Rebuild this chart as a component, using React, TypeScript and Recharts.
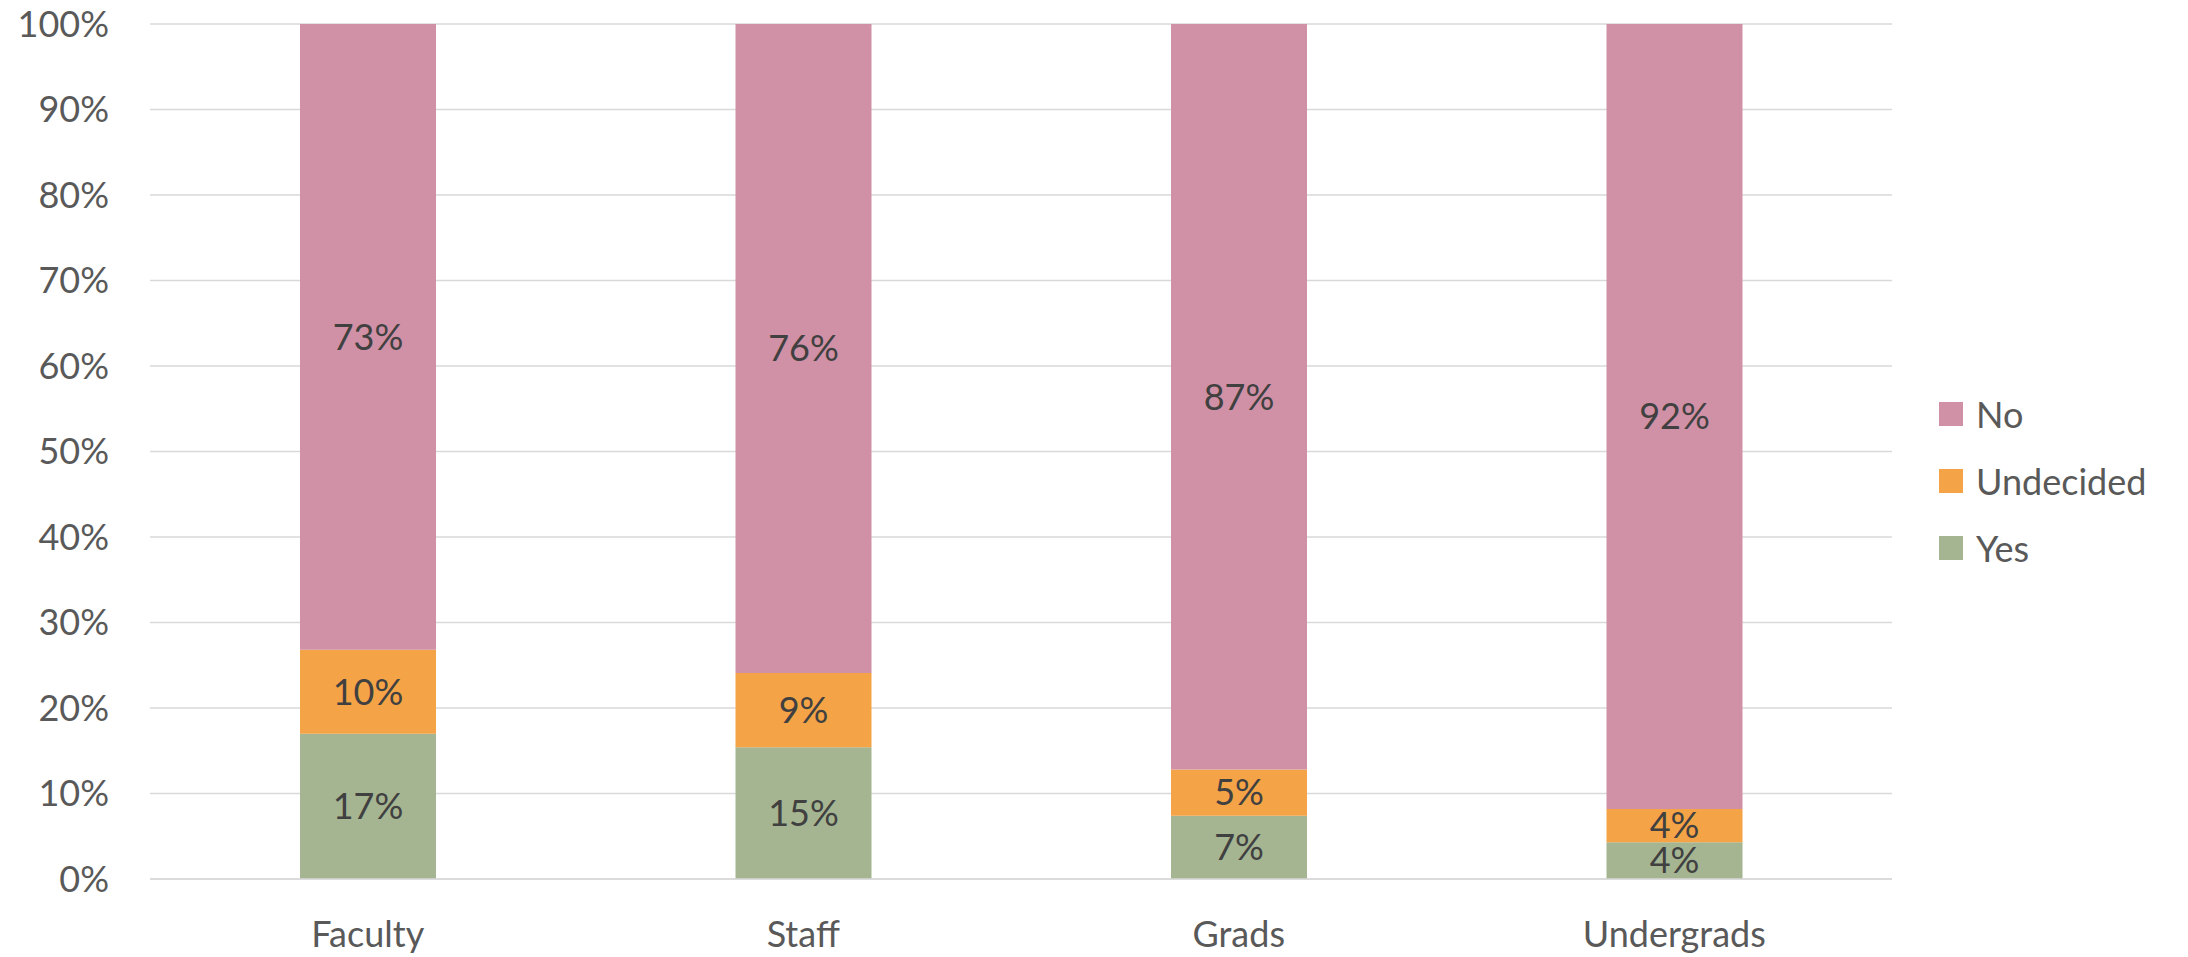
import React from 'react';
import { BarChart, Bar, XAxis, YAxis, CartesianGrid, Legend, LabelList } from 'recharts';

const categories = ['Faculty', 'Staff', 'Grads', 'Undergrads'];
const yesValues = [17.0, 15.4, 7.4, 4.3];
const undecidedValues = [9.8, 8.7, 5.4, 3.9];
const noValues = [73.2, 75.9, 87.2, 91.8];
const yTicks = [0, 10, 20, 30, 40, 50, 60, 70, 80, 90, 100];
const legendOrder = ['No', 'Undecided', 'Yes'];

const data = categories.map((c, i) => ({
  name: c,
  Yes: yesValues[i],
  Undecided: undecidedValues[i],
  No: noValues[i],
}));

const FONT = 'Lato, "Open Sans", sans-serif';
const AXIS_COLOR = '#595959';
const LABEL_COLOR = '#404040';
const COLORS: Record<string, string> = { Yes: '#A5B592', Undecided: '#F4A346', No: '#D090A5' };

const fmtLabel = (v: any) => `${Math.round(Number(v))}%`;

const LegendContent = (props: any) => {
  const payload = (props.payload || []).slice().sort(
    (a: any, b: any) => legendOrder.indexOf(a.value) - legendOrder.indexOf(b.value)
  );
  return (
    <div style={{ fontFamily: FONT, fontSize: 36, color: AXIS_COLOR }}>
      {payload.map((p: any) => (
        <div key={p.value} style={{ display: 'flex', alignItems: 'center', height: 67 }}>
          <span style={{ display: 'inline-block', width: 24, height: 24, background: p.color, marginRight: 13 }} />
          <span>{p.value}</span>
        </div>
      ))}
    </div>
  );
};

export default function App() {
  return (
    <div style={{ position: 'absolute', left: 0, top: 0, width: 2188, height: 957, background: '#fff' }}>
      <BarChart width={2188} height={957} data={data} margin={{ top: 24, right: 296, bottom: 0, left: 0 }}>
        <CartesianGrid vertical={false} stroke="#D9D9D9" strokeWidth={1.3} />
        <XAxis
          dataKey="name"
          height={78}
          tickLine={false}
          axisLine={{ stroke: '#D9D9D9', strokeWidth: 1.3 }}
          tickSize={0}
          tickMargin={42}
          tick={{ fill: AXIS_COLOR, fontSize: 36, fontFamily: FONT }}
        />
        <YAxis
          width={150}
          domain={[0, 100]}
          ticks={yTicks}
          interval={0}
          tickFormatter={(v: number) => `${v}%`}
          tickLine={false}
          axisLine={false}
          tickSize={0}
          tickMargin={41}
          tick={{ fill: AXIS_COLOR, fontSize: 36, fontFamily: FONT }}
        />
        <Legend
          layout="vertical"
          align="center"
          verticalAlign="middle"
          content={<LegendContent />}
          wrapperStyle={{ left: 1939, top: 380, width: 240 }}
        />
        <Bar dataKey="Yes" stackId="a" fill={COLORS.Yes} barSize={136} isAnimationActive={false}>
          <LabelList dataKey="Yes" position="center" formatter={fmtLabel} fill={LABEL_COLOR} fontSize={36} fontFamily={FONT} />
        </Bar>
        <Bar dataKey="Undecided" stackId="a" fill={COLORS.Undecided} barSize={136} isAnimationActive={false}>
          <LabelList dataKey="Undecided" position="center" formatter={fmtLabel} fill={LABEL_COLOR} fontSize={36} fontFamily={FONT} />
        </Bar>
        <Bar dataKey="No" stackId="a" fill={COLORS.No} barSize={136} isAnimationActive={false}>
          <LabelList dataKey="No" position="center" formatter={fmtLabel} fill={LABEL_COLOR} fontSize={36} fontFamily={FONT} />
        </Bar>
      </BarChart>
    </div>
  );
}
